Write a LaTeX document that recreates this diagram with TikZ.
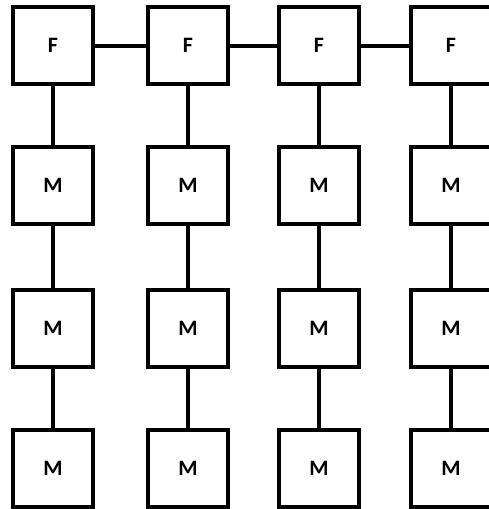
\documentclass[tikz,border=0pt]{standalone}
\usepackage{fontspec}
\setmainfont{Carlito}
\usetikzlibrary{positioning}

\begin{document}
\begin{tikzpicture}[x=1pt, y=1pt, font=\fontsize{22}{22}\selectfont\bfseries,
  unit/.style={draw, line width=4pt, minimum width=80pt, minimum height=77pt, inner sep=0pt},
  link/.style={line width=4pt}]
\useasboundingbox (0,0) rectangle (488,-509);
% top row
\node[unit] (f1) at (53,-45.5) {F};
\node[unit, right=51pt of f1] (f2) {F};
\node[unit, right=47pt of f2] (f3) {F};
\node[unit, right=48pt of f3] (f4) {F};
% columns
\node[unit, below=59pt of f1] (m11) {M};
\node[unit, below=62pt of m11] (m12) {M};
\node[unit, below=59pt of m12] (m13) {M};
\node[unit, below=59pt of f2] (m21) {M};
\node[unit, below=62pt of m21] (m22) {M};
\node[unit, below=59pt of m22] (m23) {M};
\node[unit, below=59pt of f3] (m31) {M};
\node[unit, below=62pt of m31] (m32) {M};
\node[unit, below=59pt of m32] (m33) {M};
\node[unit, below=59pt of f4] (m41) {M};
\node[unit, below=62pt of m41] (m42) {M};
\node[unit, below=59pt of m42] (m43) {M};
% links
\draw[link] (f1) -- (f2);
\draw[link] (f2) -- (f3);
\draw[link] (f3) -- (f4);
\draw[link] (f1) -- (m11) (m11) -- (m12) (m12) -- (m13);
\draw[link] (f2) -- (m21) (m21) -- (m22) (m22) -- (m23);
\draw[link] (f3) -- (m31) (m31) -- (m32) (m32) -- (m33);
\draw[link] (f4) -- (m41) (m41) -- (m42) (m42) -- (m43);
\end{tikzpicture}
\end{document}
